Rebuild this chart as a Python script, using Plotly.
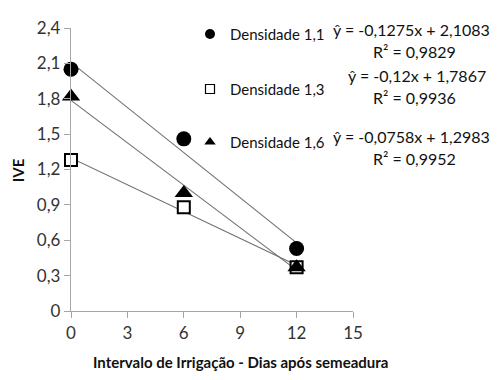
import plotly.graph_objects as go

# ---- data ----
x_days = [0, 6, 12]
dens_11 = [2.05, 1.46, 0.53]
dens_13 = [1.28, 0.88, 0.37]
dens_16 = [1.82, 1.00, 0.37]

series_names = ["Densidade 1,1", "Densidade 1,3", "Densidade 1,6"]
eq_text = ["ŷ = -0,1275x + 2,1083", "ŷ = -0,12x + 1,7867", "ŷ = -0,0758x + 1,2983"]
r2_text = ["R² = 0,9829", "R² = 0,9936", "R² = 0,9952"]

# trendline coefficients (slope, intercept) as printed on the chart
trend_slope = [-0.1275, -0.12, -0.0758]
trend_icpt = [2.1083, 1.7867, 1.2983]
trend_x = [0, 12]

y_ticks = [0, 0.3, 0.6, 0.9, 1.2, 1.5, 1.8, 2.1, 2.4]
y_ticktext = ["0", "0,3", "0,6", "0,9", "1,2", "1,5", "1,8", "2,1", "2,4"]
x_ticks = [0, 3, 6, 9, 12, 15]
x_ticktext = ["0", "3", "6", "9", "12", "15"]

FONT = "Lato, 'Open Sans', sans-serif"

# the page body has an 8px default margin -> work in page pixels, subtract offset
OFF = 8
W, H = 499 - OFF, 380 - OFF
L, R, T, B = 71 - OFF, 353 - OFF, 17.5 - OFF, 311 - OFF


def px(xp):
    return (xp - OFF - L) / (R - L)


def py(yp):
    return (B - (yp - OFF)) / (B - T)


fig = go.Figure()

# trend lines
for s, c in zip(trend_slope, trend_icpt):
    fig.add_trace(go.Scatter(
        x=trend_x, y=[s * xv + c for xv in trend_x], mode="lines",
        line=dict(color="#6e6e6e", width=1.1), showlegend=False,
        hoverinfo="skip", cliponaxis=False))

marker_styles = [
    dict(symbol="circle", size=15, color="black"),
    dict(symbol="square", size=12, color="white", line=dict(color="black", width=2)),
    dict(symbol="triangle-up", size=16, color="black"),
]
legend_styles = [
    dict(symbol="circle", size=10, color="black"),
    dict(symbol="square", size=9, color="white", line=dict(color="black", width=1.2)),
    dict(symbol="triangle-up", size=10, color="black"),
]
series_vals = [dens_11, dens_13, dens_16]
legend_ids = ["legend", "legend2", "legend3"]

for name, vals, ms in zip(series_names, series_vals, marker_styles):
    fig.add_trace(go.Scatter(x=x_days, y=vals, mode="markers", marker=ms,
                             name=name, showlegend=False, cliponaxis=False))

# legend-only entries (smaller symbols like the reference)
for name, ls, lid in zip(series_names, legend_styles, legend_ids):
    fig.add_trace(go.Scatter(x=[None], y=[None], mode="markers", marker=ls,
                             name=name, showlegend=True, legend=lid))

legend_y_px = [24, 81, 136]
leg_common = dict(xanchor="left", yanchor="middle", bgcolor="rgba(0,0,0,0)",
                  font=dict(family=FONT, size=15, color="#111"),
                  itemwidth=30)
layout_legends = {}
for lid, ly in zip(legend_ids, legend_y_px):
    layout_legends[lid] = dict(x=px(190), y=py(ly), **leg_common)

# equations
eq_x_px = [411, 417, 411]
eq_y_px = [19, 67, 130]
r2_y_px = [42, 90, 153]
annotations = []
for eq, r2, ex, ey, ry in zip(eq_text, r2_text, eq_x_px, eq_y_px, r2_y_px):
    annotations.append(dict(x=px(ex), y=py(ey), xref="paper", yref="paper",
                            text=eq, showarrow=False, xanchor="center", yanchor="middle",
                            font=dict(family=FONT, size=16, color="#111")))
    annotations.append(dict(x=px(414), y=py(ry), xref="paper", yref="paper",
                            text=r2, showarrow=False, xanchor="center", yanchor="middle",
                            font=dict(family=FONT, size=16, color="#111")))

# axis titles as annotations for exact placement
annotations.append(dict(x=px(18), y=py(165), xref="paper", yref="paper",
                        text="<b>IVE</b>", textangle=-90, showarrow=False,
                        xanchor="center", yanchor="middle",
                        font=dict(family=FONT, size=15, color="#111")))
annotations.append(dict(x=px(240), y=py(364), xref="paper", yref="paper",
                        text="<b>Intervalo de Irrigação - Dias após semeadura</b>",
                        showarrow=False, xanchor="center", yanchor="middle",
                        font=dict(family=FONT, size=15, color="#111")))

axis_color = "#a6a6a6"
fig.update_layout(
    width=W, height=H,
    margin=dict(l=L, r=W - R, t=T, b=H - B, pad=0),
    paper_bgcolor="white", plot_bgcolor="white",
    font=dict(family=FONT, color="#333"),
    annotations=annotations,
    xaxis=dict(range=[0, 15], tickvals=x_ticks, ticktext=x_ticktext, automargin=False,
               showgrid=False, zeroline=False, showline=True, linecolor=axis_color,
               linewidth=1.3, ticks="outside", ticklen=6, tickcolor=axis_color,
               tickfont=dict(family=FONT, size=17, color="#333")),
    yaxis=dict(range=[0, 2.4], tickvals=y_ticks, ticktext=y_ticktext, automargin=False,
               showgrid=False, zeroline=False, showline=True, linecolor=axis_color,
               linewidth=1.3, ticks="outside", ticklen=6, tickcolor=axis_color,
               tickfont=dict(family=FONT, size=17, color="#333")),
    **layout_legends,
)

fig.write_html("out.html")
